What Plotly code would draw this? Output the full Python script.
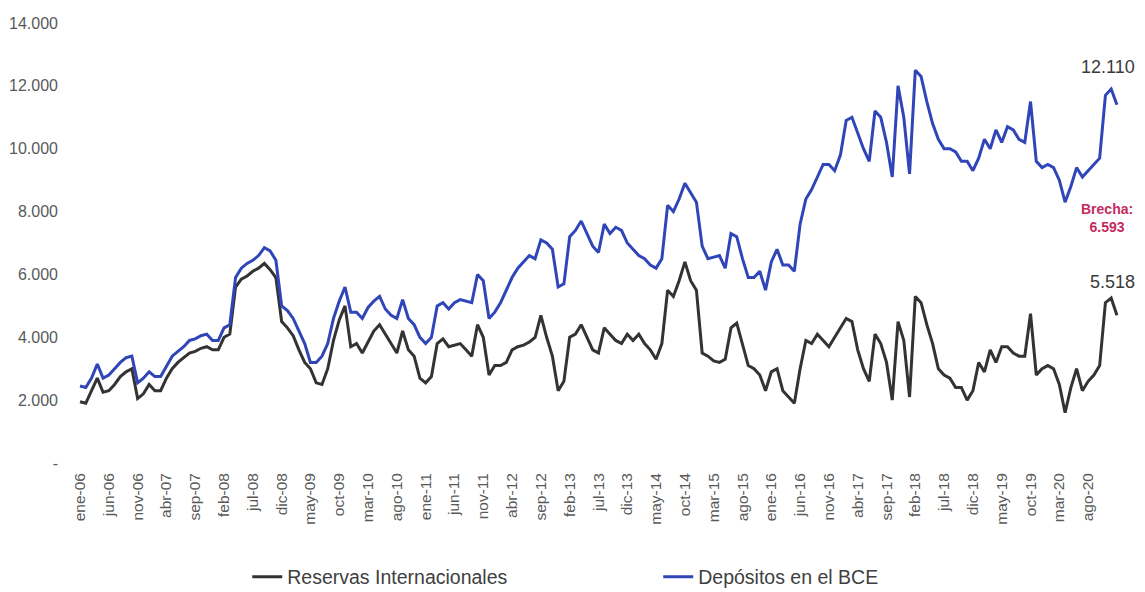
import plotly.graph_objects as go

months = ["ene", "feb", "mar", "abr", "may", "jun", "jul", "ago", "sep", "oct", "nov", "dic"]
categories = [f"{months[i % 12]}-{(6 + i // 12):02d}" for i in range(181)]

depositos_bce = [
    2.45, 2.4, 2.7, 3.15, 2.7, 2.8, 3.0, 3.2, 3.35, 3.4,
    2.55, 2.7, 2.9, 2.75, 2.75, 3.1, 3.4, 3.55, 3.7, 3.9,
    3.95, 4.05, 4.1, 3.9, 3.9, 4.3, 4.4, 5.9, 6.2, 6.35,
    6.45, 6.6, 6.85, 6.75, 6.45, 5.0, 4.85, 4.6, 4.2, 3.8,
    3.2, 3.2, 3.4, 3.8, 4.6, 5.15, 5.6, 4.8, 4.8, 4.6,
    4.95, 5.15, 5.3, 4.9, 4.7, 4.6, 5.2, 4.6, 4.4, 4.0,
    3.8, 4.0, 5.0, 5.1, 4.9, 5.1, 5.2, 5.15, 5.1, 6.0,
    5.8, 4.6, 4.8, 5.1, 5.5, 5.9, 6.2, 6.4, 6.6, 6.5,
    7.1, 7.0, 6.8, 5.6, 5.7, 7.2, 7.4, 7.7, 7.3, 6.9,
    6.7, 7.6, 7.3, 7.5, 7.4, 7.0, 6.8, 6.6, 6.5, 6.3,
    6.2, 6.5, 8.2, 8.0, 8.4, 8.9, 8.6, 8.3, 6.9, 6.5,
    6.55, 6.6, 6.2, 7.3, 7.2, 6.5, 5.9, 5.9, 6.1, 5.5,
    6.4, 6.8, 6.3, 6.3, 6.1, 7.6, 8.4, 8.7, 9.1, 9.5,
    9.5, 9.3, 9.8, 10.9, 11.0, 10.5, 10.0, 9.6, 11.2, 11.0,
    10.2, 9.1, 12.0, 11.0, 9.2, 12.5, 12.3, 11.5, 10.8, 10.3,
    10.0, 10.0, 9.9, 9.6, 9.6, 9.3, 9.7, 10.3, 10.0, 10.6,
    10.2, 10.7, 10.6, 10.3, 10.2, 11.5, 9.6, 9.4, 9.5, 9.4,
    9.0, 8.3, 8.8, 9.4, 9.1, 9.3, 9.5, 9.7, 11.7, 11.9,
    11.4,
]

reservas_internacionales = [
    1.95, 1.9, 2.3, 2.7, 2.25, 2.3, 2.5, 2.75, 2.9, 3.0,
    2.05, 2.2, 2.5, 2.3, 2.3, 2.7, 3.0, 3.2, 3.35, 3.5,
    3.55, 3.65, 3.7, 3.6, 3.6, 4.0, 4.1, 5.6, 5.85, 5.95,
    6.1, 6.2, 6.35, 6.15, 5.9, 4.5, 4.3, 4.05, 3.6, 3.2,
    3.0, 2.55, 2.5, 3.0, 3.9, 4.55, 5.0, 3.7, 3.8, 3.5,
    3.85, 4.2, 4.4, 4.1, 3.8, 3.5, 4.2, 3.6, 3.4, 2.7,
    2.55, 2.75, 3.8, 3.95, 3.7, 3.75, 3.8, 3.6, 3.4, 4.4,
    4.0, 2.8, 3.1, 3.1, 3.2, 3.6, 3.7, 3.75, 3.85, 4.0,
    4.7, 4.0, 3.4, 2.3, 2.6, 4.0, 4.1, 4.4, 4.0, 3.6,
    3.5, 4.3, 4.1, 3.9, 3.8, 4.1, 3.9, 4.1, 3.8, 3.6,
    3.3, 3.8, 5.5, 5.3, 5.8, 6.4, 5.8, 5.5, 3.5, 3.4,
    3.25, 3.2, 3.3, 4.3, 4.45, 3.8, 3.1, 3.0, 2.8, 2.3,
    2.9, 3.0, 2.3, 2.1, 1.9, 3.0, 3.9, 3.8, 4.1, 3.9,
    3.7, 4.0, 4.3, 4.6, 4.5, 3.6, 3.0, 2.6, 4.1, 3.8,
    3.2, 2.0, 4.5, 3.9, 2.1, 5.3, 5.1, 4.4, 3.8, 3.0,
    2.8, 2.7, 2.4, 2.4, 2.0, 2.3, 3.2, 2.9, 3.6, 3.2,
    3.7, 3.7, 3.5, 3.4, 3.4, 4.75, 2.8, 3.0, 3.1, 3.0,
    2.5, 1.6, 2.4, 3.0, 2.3, 2.6, 2.8, 3.1, 5.1, 5.25,
    4.7,
]

tick_step = 5
tick_idx = list(range(0, 176, tick_step))
tick_labels = [categories[i] for i in tick_idx]

y_tickvals = [0, 2000, 4000, 6000, 8000, 10000, 12000, 14000]
y_ticktext = ["-", "2.000", "4.000", "6.000", "8.000", "10.000", "12.000", "14.000"]

x_idx = list(range(len(categories)))

fig = go.Figure()
fig.add_trace(go.Scatter(
    x=x_idx, y=[v * 1000 for v in reservas_internacionales],
    mode="lines", name="Reservas Internacionales",
    line=dict(color="#333333", width=3),
))
fig.add_trace(go.Scatter(
    x=x_idx, y=[v * 1000 for v in depositos_bce],
    mode="lines", name="Depósitos en el BCE",
    line=dict(color="#2F45B8", width=3),
))

fig.add_annotation(x=178.5, y=12600, text="12.110", showarrow=False,
                   font=dict(size=18, color="#3a3a3a", family="Liberation Sans"))
fig.add_annotation(x=179.2, y=5750, text="5.518", showarrow=False,
                   font=dict(size=18, color="#3a3a3a", family="Liberation Sans"))
fig.add_annotation(x=178.2, y=7800, text="<b>Brecha:</b><br><b>6.593</b>", showarrow=False,
                   align="center",
                   font=dict(size=14, color="#C42A5E", family="Liberation Sans"))

fig.update_layout(
    width=1137, height=584,
    margin=dict(l=62, r=20, t=15, b=129, autoexpand=False),
    paper_bgcolor="white", plot_bgcolor="white",
    font=dict(family="Liberation Sans", color="#595959"),
    showlegend=True,
    legend=dict(orientation="h", x=0.168, y=-0.259, xanchor="left", yanchor="middle",
                font=dict(size=19.5, color="#404040"), entrywidth=366,
                bgcolor="rgba(0,0,0,0)"),
    xaxis=dict(range=[-1.74, 181.4], tickmode="array", tickvals=tick_idx, ticktext=tick_labels,
               tickangle=-90, showgrid=False, zeroline=False, showline=False, ticks="",
               tickfont=dict(size=15.5, color="#595959"), ticklabelstandoff=6, automargin=False),
    yaxis=dict(range=[0, 14000], tickmode="array", tickvals=y_tickvals, ticktext=y_ticktext,
               showgrid=False, zeroline=False, showline=False, ticks="",
               tickfont=dict(size=16, color="#595959"), ticklabelstandoff=11, automargin=False),
)

fig.write_html("out.html")
